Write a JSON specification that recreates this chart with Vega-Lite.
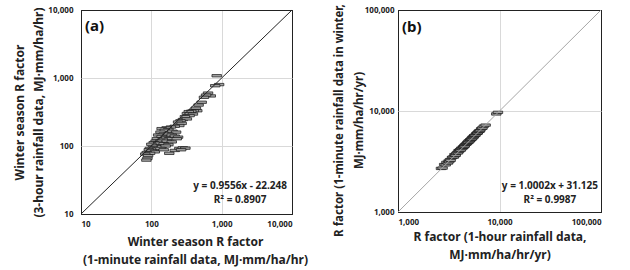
{
  "$schema": "https://vega.github.io/schema/vega-lite/v6.json",
  "background": "white",
  "padding": {"left": 13, "top": 3, "right": 5, "bottom": 3},
  "spacing": 24,
  "config": {
    "view": {"stroke": "black", "strokeWidth": 1},
    "font": "Noto Sans",
    "axis": {
      "grid": true,
      "gridColor": {"condition": {"test": "datum.index === 0 || datum.index === 1", "value": "#222"}, "value": "#d9d9d9"},
      "gridWidth": 1,
      "ticks": false,
      "domain": false,
      "labelFont": "Noto Sans",
      "labelFontSize": 8,
      "labelFontWeight": "bold",
      "labelColor": "#222",
      "labelPadding": 6,
      "titleFont": "Noto Sans",
      "titleFontSize": 12,
      "titleFontWeight": "bold",
      "titleColor": "#222",
      "titleLineHeight": 18,
      "titlePadding": 8
    }
  },
  "datasets": {
    "winter": [
      {"r1min": 850, "r3hr": 1080}, {"r1min": 920, "r3hr": 800}, {"r1min": 810, "r3hr": 770},
      {"r1min": 640, "r3hr": 600}, {"r1min": 700, "r3hr": 545}, {"r1min": 600, "r3hr": 560},
      {"r1min": 560, "r3hr": 520}, {"r1min": 520, "r3hr": 440}, {"r1min": 470, "r3hr": 400},
      {"r1min": 430, "r3hr": 360}, {"r1min": 450, "r3hr": 330}, {"r1min": 400, "r3hr": 330},
      {"r1min": 370, "r3hr": 325}, {"r1min": 340, "r3hr": 320}, {"r1min": 320, "r3hr": 300},
      {"r1min": 390, "r3hr": 295}, {"r1min": 350, "r3hr": 280}, {"r1min": 300, "r3hr": 270},
      {"r1min": 280, "r3hr": 245}, {"r1min": 320, "r3hr": 250}, {"r1min": 260, "r3hr": 235},
      {"r1min": 240, "r3hr": 225}, {"r1min": 270, "r3hr": 215}, {"r1min": 250, "r3hr": 200},
      {"r1min": 215, "r3hr": 195}, {"r1min": 190, "r3hr": 190}, {"r1min": 165, "r3hr": 185},
      {"r1min": 140, "r3hr": 180}, {"r1min": 175, "r3hr": 175}, {"r1min": 155, "r3hr": 170},
      {"r1min": 200, "r3hr": 165}, {"r1min": 225, "r3hr": 160}, {"r1min": 135, "r3hr": 160},
      {"r1min": 150, "r3hr": 150}, {"r1min": 175, "r3hr": 150}, {"r1min": 195, "r3hr": 145},
      {"r1min": 215, "r3hr": 140}, {"r1min": 240, "r3hr": 135}, {"r1min": 125, "r3hr": 145},
      {"r1min": 140, "r3hr": 138}, {"r1min": 160, "r3hr": 132}, {"r1min": 180, "r3hr": 128},
      {"r1min": 230, "r3hr": 128}, {"r1min": 120, "r3hr": 128}, {"r1min": 145, "r3hr": 125},
      {"r1min": 115, "r3hr": 118}, {"r1min": 135, "r3hr": 118}, {"r1min": 165, "r3hr": 118},
      {"r1min": 195, "r3hr": 115}, {"r1min": 108, "r3hr": 112}, {"r1min": 125, "r3hr": 110},
      {"r1min": 150, "r3hr": 108}, {"r1min": 175, "r3hr": 105}, {"r1min": 100, "r3hr": 106},
      {"r1min": 118, "r3hr": 100}, {"r1min": 140, "r3hr": 98}, {"r1min": 160, "r3hr": 100},
      {"r1min": 105, "r3hr": 95}, {"r1min": 95, "r3hr": 92}, {"r1min": 120, "r3hr": 90},
      {"r1min": 135, "r3hr": 92}, {"r1min": 92, "r3hr": 88}, {"r1min": 100, "r3hr": 85},
      {"r1min": 112, "r3hr": 82}, {"r1min": 86, "r3hr": 80}, {"r1min": 96, "r3hr": 78},
      {"r1min": 82, "r3hr": 76}, {"r1min": 90, "r3hr": 72}, {"r1min": 88, "r3hr": 66},
      {"r1min": 85, "r3hr": 62}, {"r1min": 250, "r3hr": 92}, {"r1min": 280, "r3hr": 94},
      {"r1min": 305, "r3hr": 93}, {"r1min": 215, "r3hr": 86}, {"r1min": 180, "r3hr": 78},
      {"r1min": 265, "r3hr": 88}, {"r1min": 150, "r3hr": 88}
    ],
    "annual": [
      {"r1hr": 2650, "r1min": 2700}, {"r1hr": 2750, "r1min": 2720}, {"r1hr": 2850, "r1min": 2950},
      {"r1hr": 2950, "r1min": 2930}, {"r1hr": 3000, "r1min": 3100}, {"r1hr": 3100, "r1min": 3050},
      {"r1hr": 3150, "r1min": 3200}, {"r1hr": 3200, "r1min": 3150}, {"r1hr": 3250, "r1min": 3300},
      {"r1hr": 3300, "r1min": 3250}, {"r1hr": 3400, "r1min": 3450}, {"r1hr": 3450, "r1min": 3500},
      {"r1hr": 3550, "r1min": 3500}, {"r1hr": 3600, "r1min": 3700}, {"r1hr": 3650, "r1min": 3620},
      {"r1hr": 3700, "r1min": 3650}, {"r1hr": 3750, "r1min": 3800}, {"r1hr": 3850, "r1min": 3900},
      {"r1hr": 3900, "r1min": 3850}, {"r1hr": 3950, "r1min": 4050}, {"r1hr": 4000, "r1min": 3980},
      {"r1hr": 4050, "r1min": 4100}, {"r1hr": 4100, "r1min": 4150}, {"r1hr": 4150, "r1min": 4100},
      {"r1hr": 4200, "r1min": 4280}, {"r1hr": 4300, "r1min": 4250}, {"r1hr": 4350, "r1min": 4400},
      {"r1hr": 4400, "r1min": 4380}, {"r1hr": 4450, "r1min": 4420}, {"r1hr": 4500, "r1min": 4550},
      {"r1hr": 4550, "r1min": 4500}, {"r1hr": 4600, "r1min": 4650}, {"r1hr": 4700, "r1min": 4680},
      {"r1hr": 4750, "r1min": 4800}, {"r1hr": 4800, "r1min": 4780}, {"r1hr": 4850, "r1min": 4880},
      {"r1hr": 4900, "r1min": 4950}, {"r1hr": 4950, "r1min": 4900}, {"r1hr": 5000, "r1min": 5080},
      {"r1hr": 5100, "r1min": 5050}, {"r1hr": 5150, "r1min": 5200}, {"r1hr": 5200, "r1min": 5180},
      {"r1hr": 5250, "r1min": 5230}, {"r1hr": 5300, "r1min": 5350}, {"r1hr": 5350, "r1min": 5300},
      {"r1hr": 5400, "r1min": 5480}, {"r1hr": 5500, "r1min": 5450}, {"r1hr": 5550, "r1min": 5600},
      {"r1hr": 5600, "r1min": 5580}, {"r1hr": 5650, "r1min": 5700}, {"r1hr": 5700, "r1min": 5750},
      {"r1hr": 5800, "r1min": 5760}, {"r1hr": 5900, "r1min": 5950}, {"r1hr": 6000, "r1min": 6050},
      {"r1hr": 6050, "r1min": 6000}, {"r1hr": 6100, "r1min": 6080}, {"r1hr": 6200, "r1min": 6250},
      {"r1hr": 6300, "r1min": 6350}, {"r1hr": 6350, "r1min": 6300}, {"r1hr": 6450, "r1min": 6420},
      {"r1hr": 6600, "r1min": 6650}, {"r1hr": 6700, "r1min": 6750}, {"r1hr": 6800, "r1min": 6780},
      {"r1hr": 7000, "r1min": 7080}, {"r1hr": 7300, "r1min": 7250}, {"r1hr": 9300, "r1min": 9350},
      {"r1hr": 9650, "r1min": 9700}
    ],
    "one": [{}]
  },
  "hconcat": [
    {
      "width": 211,
      "height": 204,
      "layer": [
        {
          "data": {"name": "winter"},
          "mark": {
            "type": "point",
            "shape": "M-1,-0.25L1,-0.25L1,0.25L-1,0.25Z",
            "filled": true,
            "fill": "#a3a3a3",
            "stroke": "#111",
            "strokeWidth": 0.7,
            "size": 90,
            "opacity": 1
          },
          "encoding": {
            "x": {
              "field": "r1min",
              "type": "quantitative",
              "scale": {"type": "log", "domain": [10, 10000], "nice": false},
              "axis": {
                "values": [10, 10000, 100, 1000],
                "format": ",",
                "titleX": 114,
                "title": ["Winter season R factor", "(1-minute rainfall data, MJ·mm/ha/hr)"]
              }
            },
            "y": {
              "field": "r3hr",
              "type": "quantitative",
              "scale": {"type": "log", "domain": [10, 10000], "nice": false},
              "axis": {
                "values": [10, 10000, 100, 1000],
                "format": ",",
                "labelPadding": 8,
                "titlePadding": 2,
                "titleLineHeight": 19,
                "title": ["Winter season R factor", "(3-hour rainfall data,  MJ·mm/ha/hr)"]
              }
            }
          }
        },
        {
          "data": {"name": "one"},
          "mark": {"type": "rule", "color": "#222", "strokeWidth": 1},
          "encoding": {
            "x": {"datum": 10, "type": "quantitative"},
            "y": {"datum": 10, "type": "quantitative"},
            "x2": {"datum": 10000},
            "y2": {"datum": 10000}
          }
        },
        {
          "data": {"name": "one"},
          "mark": {"type": "text", "text": "(a)", "fontSize": 15, "fontWeight": "bold", "align": "left", "baseline": "middle", "color": "#111"},
          "encoding": {
            "x": {"datum": 11.4, "type": "quantitative"},
            "y": {"datum": 5900, "type": "quantitative"}
          }
        },
        {
          "data": {"name": "one"},
          "mark": {"type": "text", "text": ["y = 0.9556x - 22.248", "R² = 0.8907"], "lineHeight": 14, "fontSize": 10, "fontWeight": "bold", "align": "center", "baseline": "middle", "color": "#222"},
          "encoding": {
            "x": {"datum": 1830, "type": "quantitative"},
            "y": {"datum": 25.9, "type": "quantitative"}
          }
        }
      ]
    },
    {
      "width": 203,
      "height": 202,
      "layer": [
        {
          "data": {"name": "annual"},
          "mark": {
            "type": "point",
            "shape": "M-1,-0.25L1,-0.25L1,0.25L-1,0.25Z",
            "filled": true,
            "fill": "#a3a3a3",
            "stroke": "#111",
            "strokeWidth": 0.7,
            "size": 90,
            "opacity": 1
          },
          "encoding": {
            "x": {
              "field": "r1hr",
              "type": "quantitative",
              "scale": {"type": "log", "domain": [1000, 100000], "nice": false},
              "axis": {
                "values": [1000, 100000, 10000],
                "format": ",",
                "titlePadding": 5,
                "title": ["R factor (1-hour rainfall data,", "MJ·mm/ha/hr/yr)"]
              }
            },
            "y": {
              "field": "r1min",
              "type": "quantitative",
              "scale": {"type": "log", "domain": [1000, 100000], "nice": false},
              "axis": {
                "values": [1000, 100000, 10000],
                "format": ",",
                "labelPadding": 4,
                "titlePadding": 0,
                "titleFontSize": 11.5,
                "titleLineHeight": 20,
                "titleY": 110,
                "title": ["R factor (1-minute rainfall data in winter,", "MJ·mm/ha/hr/yr)"]
              }
            }
          }
        },
        {
          "data": {"name": "one"},
          "mark": {"type": "rule", "color": "#a6a6a6", "strokeWidth": 1},
          "encoding": {
            "x": {"datum": 1000, "type": "quantitative"},
            "y": {"datum": 1000, "type": "quantitative"},
            "x2": {"datum": 100000},
            "y2": {"datum": 100000}
          }
        },
        {
          "data": {"name": "one"},
          "mark": {"type": "text", "text": "(b)", "fontSize": 15, "fontWeight": "bold", "align": "left", "baseline": "middle", "color": "#111"},
          "encoding": {
            "x": {"datum": 1095, "type": "quantitative"},
            "y": {"datum": 67600, "type": "quantitative"}
          }
        },
        {
          "data": {"name": "one"},
          "mark": {"type": "text", "text": ["y = 1.0002x + 31.125", "R² = 0.9987"], "lineHeight": 14, "fontSize": 10, "fontWeight": "bold", "align": "center", "baseline": "middle", "color": "#222"},
          "encoding": {
            "x": {"datum": 31400, "type": "quantitative"},
            "y": {"datum": 1807, "type": "quantitative"}
          }
        }
      ]
    }
  ]
}
